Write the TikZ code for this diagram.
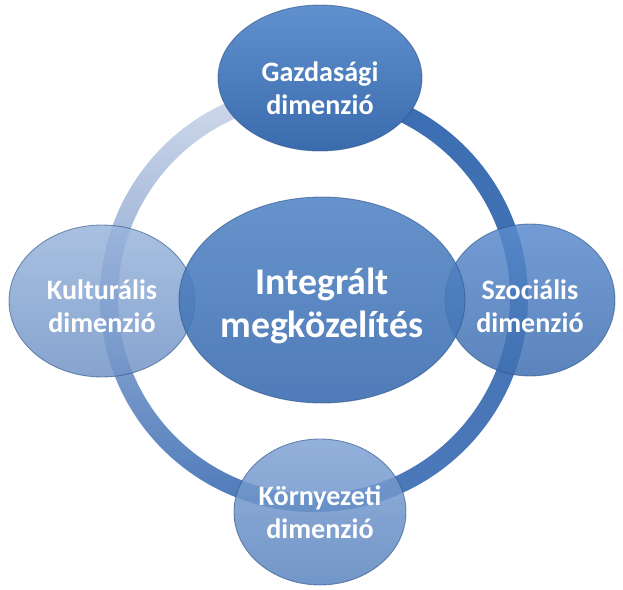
\documentclass[tikz,border=0pt]{standalone}
\usepackage{fontspec}
\setmainfont{Carlito}
\usepackage{tikz}
\usetikzlibrary{shapes.geometric}

\definecolor{ringlight}{HTML}{D3DBEC}
\definecolor{ringmid}{HTML}{A2B8DC}
\definecolor{ringlow}{HTML}{4C79B9}
\definecolor{ringdark}{HTML}{3B6DB2}
\definecolor{edgeblue}{HTML}{2D5287}

\begin{document}
\begin{tikzpicture}[thick]
  \tikzset{dim/.style={draw=edgeblue, draw opacity=0.6, line width=0.5pt,
      ellipse, inner sep=0pt},
    dimtext/.style={text=white, align=center, text opacity=1,
      font=\bfseries\fontsize{16}{18.5}\selectfont}}
  \useasboundingbox (0,0) rectangle (12.46,-11.8);

  % ring behind the dimensions, light on the left, dark on the right
  \coordinate (mid) at (6.28,-5.96);
  \shade [top color=ringlight, middle color=ringmid, bottom color=ringlow]
    ([shift={(90:4.28)}]mid) arc (90:270:4.28)
    -- ([shift={(270:3.92)}]mid) arc (270:90:3.92) -- cycle;
  \shade [top color=ringdark, bottom color=ringlow]
    ([shift={(90:4.28)}]mid) arc (90:-90:4.28)
    -- ([shift={(-90:3.92)}]mid) arc (-90:90:3.92) -- cycle;

  \foreach \n/\x/\y/\w/\h/\ct/\cb/\d/\t in {
      kult/2.04/-6.02/3.72/3.04/9AB5DB/7194C7/0.1/{Kulturális\\dimenzió},
      szoc/10.6/-6.0/3.4/3.04/5A8BCC/3E6FB0/0.12/{Szociális\\dimenzió},
      korny/6.4/-10.24/3.44/2.92/80A3D4/5A84BF/0.0/{Környezeti\\dimenzió}} {
    \definecolor{tc}{HTML}{\ct}
    \definecolor{bc}{HTML}{\cb}
    \node [dim, minimum width=\w cm, minimum height=\h cm,
           top color=tc, bottom color=bc, fill opacity=0.85,
           label={[dimtext, yshift=-\d cm]center:\t}]
      (\n) at (\x,\y) {};
  }

  \node [dim, minimum width=5.72cm, minimum height=4.12cm,
         top color={rgb,255:red,86;green,135;blue,198},
         bottom color={rgb,255:red,60;green,110;blue,176},
         fill opacity=0.9,
         label={[dimtext, yshift=-0.12cm,
                 font=\bfseries\fontsize{21.5}{24}\selectfont]
                center:Integrált\\megközelítés}]
    (core) at (6.44,-6.0) {};

  \node [dim, minimum width=4.08cm, minimum height=2.92cm,
         top color={rgb,255:red,96;green,144;blue,206},
         bottom color={rgb,255:red,58;green,107;blue,173},
         label={[dimtext, yshift=-0.2cm]center:Gazdasági\\dimenzió}]
    (gazd) at (6.4,-1.56) {};

\end{tikzpicture}
\end{document}
